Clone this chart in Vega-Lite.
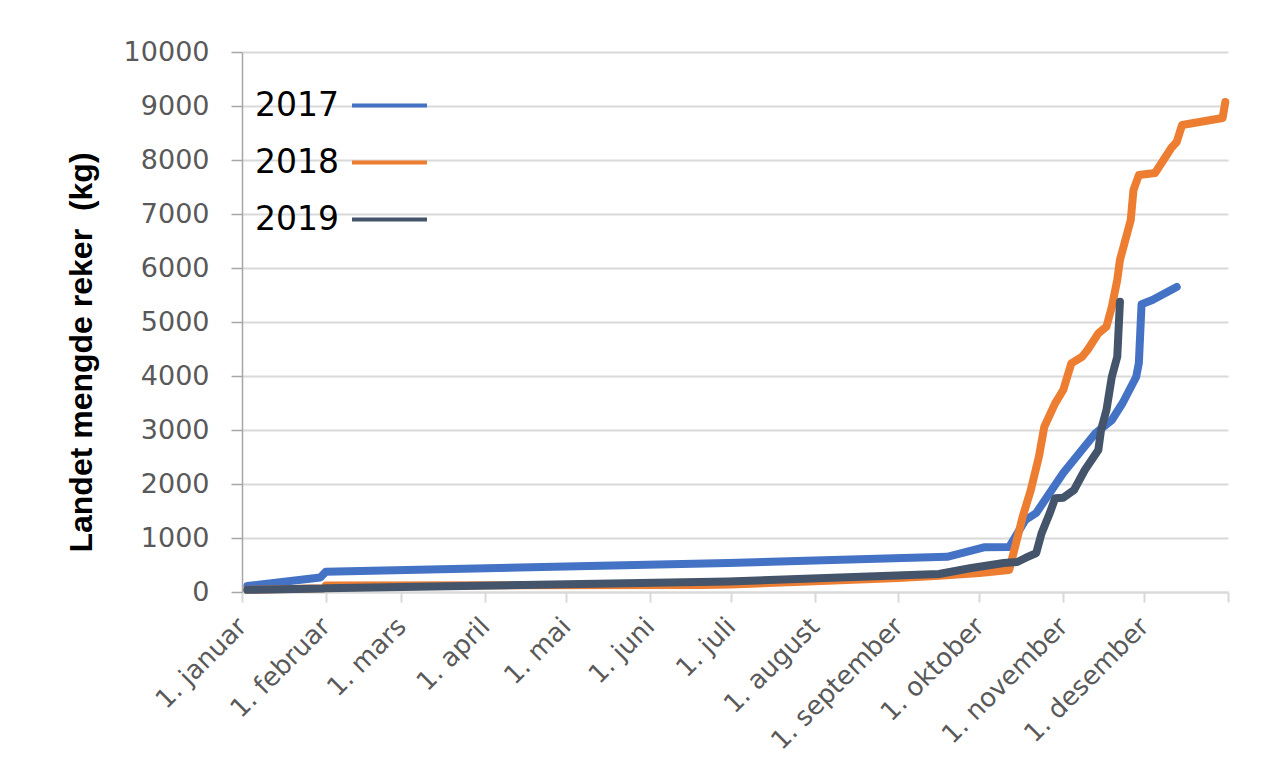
{
  "$schema": "https://vega.github.io/schema/vega-lite/v6.json",
  "width": 986,
  "height": 540,
  "autosize": "none",
  "padding": {"left": 242, "top": 52, "right": 53, "bottom": 187},
  "background": "white",
  "config": {"view": {"stroke": null}},
  "data": {
    "values": [
      {"date": "2001-01-03", "year": "2017", "kg": 110},
      {"date": "2001-01-30", "year": "2017", "kg": 270},
      {"date": "2001-02-01", "year": "2017", "kg": 375},
      {"date": "2001-06-30", "year": "2017", "kg": 537},
      {"date": "2001-09-19", "year": "2017", "kg": 652},
      {"date": "2001-10-03", "year": "2017", "kg": 830},
      {"date": "2001-10-12", "year": "2017", "kg": 833},
      {"date": "2001-10-18", "year": "2017", "kg": 1333},
      {"date": "2001-10-22", "year": "2017", "kg": 1463},
      {"date": "2001-11-01", "year": "2017", "kg": 2204},
      {"date": "2001-11-13", "year": "2017", "kg": 2944},
      {"date": "2001-11-19", "year": "2017", "kg": 3185},
      {"date": "2001-11-23", "year": "2017", "kg": 3500},
      {"date": "2001-11-28", "year": "2017", "kg": 3981},
      {"date": "2001-11-29", "year": "2017", "kg": 4240},
      {"date": "2001-11-30", "year": "2017", "kg": 5330},
      {"date": "2001-12-04", "year": "2017", "kg": 5407},
      {"date": "2001-12-13", "year": "2017", "kg": 5648},

      {"date": "2001-01-03", "year": "2018", "kg": 40},
      {"date": "2001-01-31", "year": "2018", "kg": 70},
      {"date": "2001-02-01", "year": "2018", "kg": 120},
      {"date": "2001-06-20", "year": "2018", "kg": 130},
      {"date": "2001-07-01", "year": "2018", "kg": 140},
      {"date": "2001-08-01", "year": "2018", "kg": 200},
      {"date": "2001-09-01", "year": "2018", "kg": 260},
      {"date": "2001-09-16", "year": "2018", "kg": 300},
      {"date": "2001-10-01", "year": "2018", "kg": 350},
      {"date": "2001-10-12", "year": "2018", "kg": 407},
      {"date": "2001-10-17", "year": "2018", "kg": 1395},
      {"date": "2001-10-20", "year": "2018", "kg": 1889},
      {"date": "2001-10-23", "year": "2018", "kg": 2506},
      {"date": "2001-10-25", "year": "2018", "kg": 3061},
      {"date": "2001-10-29", "year": "2018", "kg": 3494},
      {"date": "2001-11-01", "year": "2018", "kg": 3740},
      {"date": "2001-11-04", "year": "2018", "kg": 4235},
      {"date": "2001-11-08", "year": "2018", "kg": 4357},
      {"date": "2001-11-10", "year": "2018", "kg": 4481},
      {"date": "2001-11-14", "year": "2018", "kg": 4790},
      {"date": "2001-11-17", "year": "2018", "kg": 4913},
      {"date": "2001-11-19", "year": "2018", "kg": 5283},
      {"date": "2001-11-21", "year": "2018", "kg": 5778},
      {"date": "2001-11-22", "year": "2018", "kg": 6148},
      {"date": "2001-11-26", "year": "2018", "kg": 6889},
      {"date": "2001-11-27", "year": "2018", "kg": 7444},
      {"date": "2001-11-29", "year": "2018", "kg": 7722},
      {"date": "2001-12-05", "year": "2018", "kg": 7760},
      {"date": "2001-12-11", "year": "2018", "kg": 8222},
      {"date": "2001-12-13", "year": "2018", "kg": 8333},
      {"date": "2001-12-15", "year": "2018", "kg": 8648},
      {"date": "2001-12-30", "year": "2018", "kg": 8778},
      {"date": "2001-12-31", "year": "2018", "kg": 9074},

      {"date": "2001-01-03", "year": "2019", "kg": 40},
      {"date": "2001-01-31", "year": "2019", "kg": 65},
      {"date": "2001-02-01", "year": "2019", "kg": 70},
      {"date": "2001-06-30", "year": "2019", "kg": 195},
      {"date": "2001-09-16", "year": "2019", "kg": 333},
      {"date": "2001-09-28", "year": "2019", "kg": 444},
      {"date": "2001-10-10", "year": "2019", "kg": 537},
      {"date": "2001-10-15", "year": "2019", "kg": 556},
      {"date": "2001-10-18", "year": "2019", "kg": 630},
      {"date": "2001-10-22", "year": "2019", "kg": 722},
      {"date": "2001-10-24", "year": "2019", "kg": 1087},
      {"date": "2001-10-27", "year": "2019", "kg": 1457},
      {"date": "2001-10-29", "year": "2019", "kg": 1735},
      {"date": "2001-11-01", "year": "2019", "kg": 1745},
      {"date": "2001-11-05", "year": "2019", "kg": 1889},
      {"date": "2001-11-09", "year": "2019", "kg": 2259},
      {"date": "2001-11-14", "year": "2019", "kg": 2630},
      {"date": "2001-11-15", "year": "2019", "kg": 3000},
      {"date": "2001-11-17", "year": "2019", "kg": 3370},
      {"date": "2001-11-19", "year": "2019", "kg": 3987},
      {"date": "2001-11-21", "year": "2019", "kg": 4357},
      {"date": "2001-11-22", "year": "2019", "kg": 5376}
    ]
  },
  "mark": {"type": "line", "strokeWidth": 8, "strokeJoin": "round", "strokeCap": "round"},
  "encoding": {
    "x": {
      "field": "date",
      "type": "temporal",
      "scale": {"type": "utc", "domain": [{"year": 2001, "month": 1, "date": 1, "utc": true}, {"year": 2002, "month": 1, "date": 1, "utc": true}]},
      "axis": {
        "title": null,
        "grid": false,
        "values": [
          {"year": 2001, "month": 1, "date": 1, "utc": true},
          {"year": 2001, "month": 2, "date": 1, "utc": true},
          {"year": 2001, "month": 3, "date": 1, "utc": true},
          {"year": 2001, "month": 4, "date": 1, "utc": true},
          {"year": 2001, "month": 5, "date": 1, "utc": true},
          {"year": 2001, "month": 6, "date": 1, "utc": true},
          {"year": 2001, "month": 7, "date": 1, "utc": true},
          {"year": 2001, "month": 8, "date": 1, "utc": true},
          {"year": 2001, "month": 9, "date": 1, "utc": true},
          {"year": 2001, "month": 10, "date": 1, "utc": true},
          {"year": 2001, "month": 11, "date": 1, "utc": true},
          {"year": 2001, "month": 12, "date": 1, "utc": true},
          {"year": 2002, "month": 1, "date": 1, "utc": true}
        ],
        "labelExpr": "utcyear(datum.value) > 2001 ? '' : '1. ' + ['januar','februar','mars','april','mai','juni','juli','august','september','oktober','november','desember'][utcmonth(datum.value)]",
        "labelAngle": -45,
        "labelAlign": "right",
        "labelBaseline": "middle",
        "labelPadding": 20,
        "labelFont": "DejaVu Sans",
        "labelFontSize": 26,
        "labelColor": "#595959",
        "labelOverlap": false,
        "labelBound": false,
        "labelFlush": false,
        "domainColor": "#D9D9D9",
        "domainWidth": 2,
        "tickColor": "#D9D9D9",
        "tickWidth": 2,
        "tickSize": 10
      }
    },
    "y": {
      "field": "kg",
      "type": "quantitative",
      "scale": {"domain": [0, 10000], "nice": false},
      "axis": {
        "title": "Landet mengde reker\u00a0 (kg)",
        "titleFont": "Liberation Sans",
        "titleFontSize": 32,
        "titleFontWeight": "bold",
        "titleColor": "black",
        "titlePadding": 25,
        "titleY": 300,
        "values": [0, 1000, 2000, 3000, 4000, 5000, 6000, 7000, 8000, 9000, 10000],
        "format": "d",
        "labelFont": "DejaVu Sans",
        "labelFontSize": 27,
        "labelColor": "#595959",
        "labelPadding": 22,
        "tickSize": 11,
        "tickColor": "#A6A6A6",
        "tickWidth": 1.5,
        "domainColor": "#A6A6A6",
        "domainWidth": 1.5,
        "gridColor": "#D9D9D9",
        "gridWidth": 2
      }
    },
    "color": {
      "field": "year",
      "type": "nominal",
      "scale": {"domain": ["2017", "2018", "2019"], "range": ["#4472C4", "#ED7D31", "#44546A"]},
      "legend": {
        "title": null,
        "orient": "none",
        "legendX": 108,
        "legendY": 14,
        "symbolType": "stroke",
        "symbolSize": 5625,
        "symbolStrokeWidth": 4,
        "labelFont": "DejaVu Sans",
        "labelFontSize": 33,
        "labelColor": "black",
        "labelAlign": "right",
        "labelBaseline": "middle",
        "labelOffset": -90,
        "rowPadding": -9,
        "labelLimit": 0
      }
    }
  }
}
